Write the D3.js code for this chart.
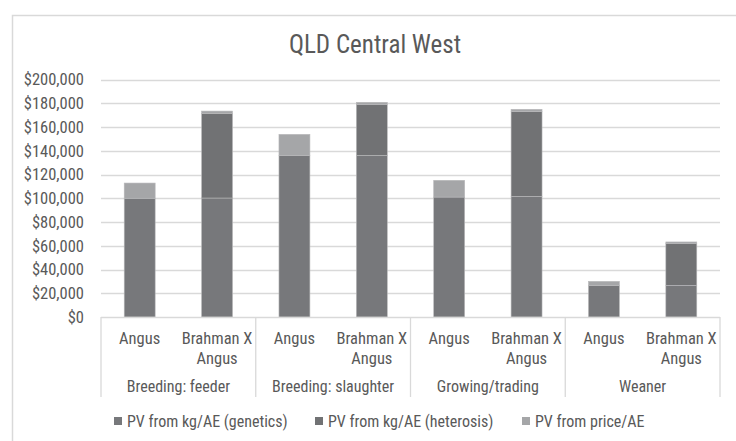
<!DOCTYPE html>
<html>
<head>
<meta charset="utf-8">
<script src="https://cdn.jsdelivr.net/npm/d3@7"></script>
<style>
  body { margin: 0; background: #fff; }
  svg text { font-family: "Liberation Sans Narrow", "Arial Narrow", "Roboto Condensed", "Liberation Sans", sans-serif; fill: #595959; }
</style>
</head>
<body>
<svg id="chart" width="736" height="441"></svg>
<script>
const title = "QLD Central West";
const groups = ["Breeding: feeder", "Breeding: slaughter", "Growing/trading", "Weaner"];
const breeds = ["Angus", "Brahman X Angus"];
const seriesNames = ["PV from kg/AE (genetics)", "PV from kg/AE (heterosis)", "PV from price/AE"];
// order: feeder Angus, feeder BxA, slaughter Angus, slaughter BxA, growing Angus, growing BxA, weaner Angus, weaner BxA
const genetics  = [100000, 100200, 136000, 136100, 101000, 101600, 26500, 26700];
const heterosis = [0, 71000, 0, 42700, 0, 71300, 0, 35300];
const price     = [12800, 2200, 17800, 2000, 14100, 2000, 3500, 1200];
const yTicks = [0, 20000, 40000, 60000, 80000, 100000, 120000, 140000, 160000, 180000, 200000];
const colors = ["#77787b", "#717274", "#a5a6a8"];

(function () {
const FONT = '"Liberation Sans Narrow", "Arial Narrow", "Roboto Condensed", "Liberation Sans", sans-serif';
const svg = d3.select("#chart");
const pL = 101, pR = 720, pT = 79.5, pB = 317;

// chart border
svg.append("rect").attr("x", 12.5).attr("y", 15.5).attr("width", 740).attr("height", 440)
  .attr("fill", "#fff").attr("stroke", "#d9d9d9").attr("stroke-width", 1.5);

svg.append("text").attr("x", 375).attr("y", 53).attr("text-anchor", "middle")
  .style("font-size", "25px").text(title);

const keys = [];
groups.forEach(g => breeds.forEach(b => keys.push(g + "|" + b)));

const x = d3.scaleBand().domain(keys).range([pL, pR]).paddingInner(0.6).paddingOuter(0.3);
const y = d3.scaleLinear().domain([0, 200000]).range([pB, pT]);

// gridlines
svg.append("g").selectAll("line").data(yTicks.slice(1)).join("line")
  .attr("x1", pL).attr("x2", pR)
  .attr("y1", d => Math.round(y(d)) + 0.5).attr("y2", d => Math.round(y(d)) + 0.5)
  .attr("stroke", "#d9d9d9").attr("stroke-width", 1.3);

// y axis labels
const yAxis = d3.axisLeft(y).tickValues(yTicks).tickSize(0).tickPadding(17)
  .tickFormat(d => "$" + d3.format(",")(d));
const gy = svg.append("g").attr("transform", `translate(${pL},0)`).call(yAxis);
gy.select(".domain").remove();
gy.selectAll("text").style("font-size", "16.5px").style("fill", "#595959")
  .style("font-family", FONT);

// stacked data
const rows = keys.map((k, i) => ({ key: k, g: genetics[i], h: heterosis[i], p: price[i] }));
const stacked = d3.stack().keys(["g", "h", "p"])(rows);

const barG = svg.append("g");
stacked.forEach((s, si) => {
  barG.append("g").attr("fill", colors[si]).selectAll("rect")
    .data(s.filter(d => d[1] - d[0] > 0)).join("rect")
    .attr("x", d => x(d.data.key))
    .attr("width", x.bandwidth())
    .attr("y", d => y(d[1]))
    .attr("height", d => y(d[0]) - y(d[1]))
    .attr("stroke", "#b8b8ba").attr("stroke-width", 0.6);
});

// x axis baseline
svg.append("line").attr("x1", pL).attr("x2", pR).attr("y1", pB + 0.5).attr("y2", pB + 0.5)
  .attr("stroke", "#d9d9d9").attr("stroke-width", 1.3);

// group separators
const groupW = (pR - pL) / groups.length;
const seps = d3.range(groups.length + 1).map(i => pL + i * groupW);
svg.append("g").selectAll("line").data(seps).join("line")
  .attr("x1", d => d).attr("x2", d => d).attr("y1", pB).attr("y2", 397)
  .attr("stroke", "#d9d9d9").attr("stroke-width", 1.3);

// breed labels
const lab = svg.append("g");
keys.forEach(k => {
  const b = k.split("|")[1];
  const cx = x(k) + x.bandwidth() / 2;
  const t = lab.append("text").attr("text-anchor", "middle").style("font-size", "16.5px");
  if (b === "Angus") {
    t.attr("x", cx).attr("y", 344).text(b);
  } else {
    t.append("tspan").attr("x", cx).attr("y", 344).text("Brahman X");
    t.append("tspan").attr("x", cx).attr("y", 364).text("Angus");
  }
});

// group labels
groups.forEach((g, i) => {
  svg.append("text").attr("x", pL + (i + 0.5) * groupW).attr("y", 392)
    .attr("text-anchor", "middle").style("font-size", "16px").text(g);
});

// legend
const legX = [114, 315, 522];
seriesNames.forEach((n, i) => {
  svg.append("rect").attr("x", legX[i]).attr("y", 417).attr("width", 8).attr("height", 8).attr("fill", colors[i]);
  svg.append("text").attr("x", legX[i] + 13).attr("y", 426.5).style("font-size", "16px").text(n);
});
})();
</script>
</body>
</html>
